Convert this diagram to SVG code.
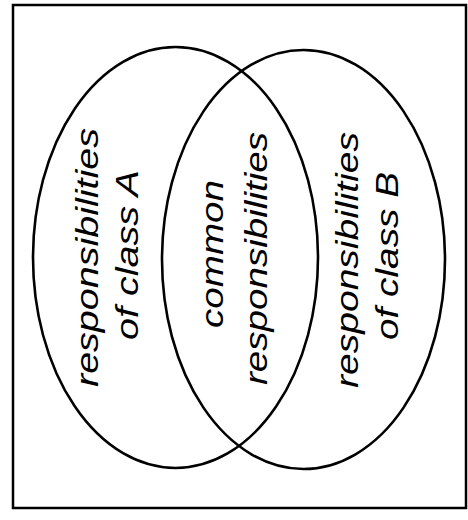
<svg xmlns="http://www.w3.org/2000/svg" width="468" height="520" viewBox="0 0 468 520">
  <style>
    .frame { fill: none; stroke: #000; stroke-width: 2.5; }
    .set { fill: none; stroke: #000; stroke-width: 2.6; }
    .lbl { font-family: "Liberation Sans", Arial, sans-serif; font-style: italic; font-size: 32px; fill: #000; text-anchor: middle; }
  </style>
  <rect x="0" y="0" width="468" height="520" fill="#fff"/>
  <rect class="frame" x="13" y="5" width="453" height="503"/>
  <g id="setA">
    <ellipse class="set" cx="175.5" cy="257.5" rx="142.5" ry="210.5"/>
    <text class="lbl" transform="translate(98,257.5) rotate(-90)" textLength="259" lengthAdjust="spacingAndGlyphs">responsibilities</text>
    <text class="lbl" transform="translate(138,255) rotate(-90)" textLength="170" lengthAdjust="spacingAndGlyphs">of class A</text>
  </g>
  <g id="setB">
    <ellipse class="set" cx="303.5" cy="259.5" rx="141.5" ry="209.5"/>
    <text class="lbl" transform="translate(358,260) rotate(-90)" textLength="256" lengthAdjust="spacingAndGlyphs">responsibilities</text>
    <text class="lbl" transform="translate(398,256) rotate(-90)" textLength="168" lengthAdjust="spacingAndGlyphs">of class B</text>
  </g>
  <g id="common">
    <text class="lbl" transform="translate(223,254) rotate(-90)" textLength="148" lengthAdjust="spacingAndGlyphs">common</text>
    <text class="lbl" transform="translate(267,258.5) rotate(-90)" textLength="253" lengthAdjust="spacingAndGlyphs">responsibilities</text>
  </g>
  <g id="connectors"></g>
</svg>
